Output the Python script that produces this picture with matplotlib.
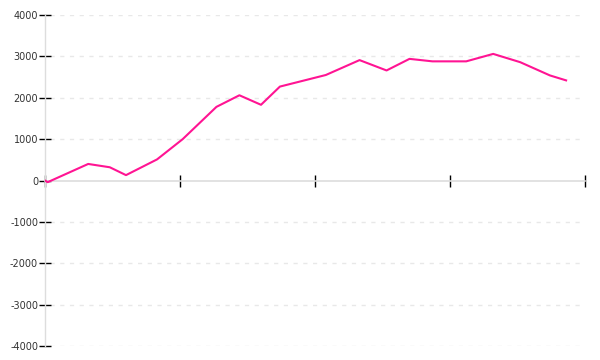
import numpy as np
import matplotlib.pyplot as plt

# x positions in axis units (ticks at 0..4)
xs = [0.0, 0.02, 0.32, 0.48, 0.60, 0.83, 1.02, 1.27, 1.44, 1.60, 1.74,
      2.08, 2.33, 2.53, 2.70, 2.87, 3.12, 3.32, 3.52, 3.74, 3.86]
vals = [0, -40, 400, 320, 130, 510, 1000, 1780, 2060, 1830, 2270,
        2550, 2910, 2660, 2940, 2880, 2880, 3060, 2860, 2540, 2420]
yticks = [-4000, -3000, -2000, -1000, 0, 1000, 2000, 3000, 4000]
xticks = [0, 1, 2, 3, 4]

fig = plt.figure(figsize=(6, 3.6), dpi=100)
ax = fig.add_axes([0.075, 0.0389, 0.9, 0.9194])

for v in yticks:
    if v != 0:
        ax.axhline(v, xmin=0.01, xmax=0.995, color='#e8e8e8', lw=1,
                   ls=(0, (3, 4)), zorder=0)

ax.plot(xs, vals, color='#ff1493', lw=1.5, zorder=3)

ax.set_xlim(0, 4)
ax.set_ylim(-4000, 4000)
ax.set_yticks(yticks)
ax.set_yticklabels([str(v) for v in yticks])
ax.set_xticks(xticks)
ax.set_xticklabels([])

for s in ['top', 'right']:
    ax.spines[s].set_visible(False)
ax.spines['left'].set_color('#dddddd')
ax.spines['bottom'].set_color('#dddddd')
ax.spines['bottom'].set_position(('data', 0))
ax.spines['left'].set_linewidth(1)
ax.spines['bottom'].set_linewidth(1.2)

ax.tick_params(axis='y', direction='inout', length=8, width=1, color='black',
               labelsize=7, labelcolor='#333333', pad=1)
ax.tick_params(axis='x', direction='inout', length=9, width=1, color='black')

fig.savefig('out.png', dpi=100)
